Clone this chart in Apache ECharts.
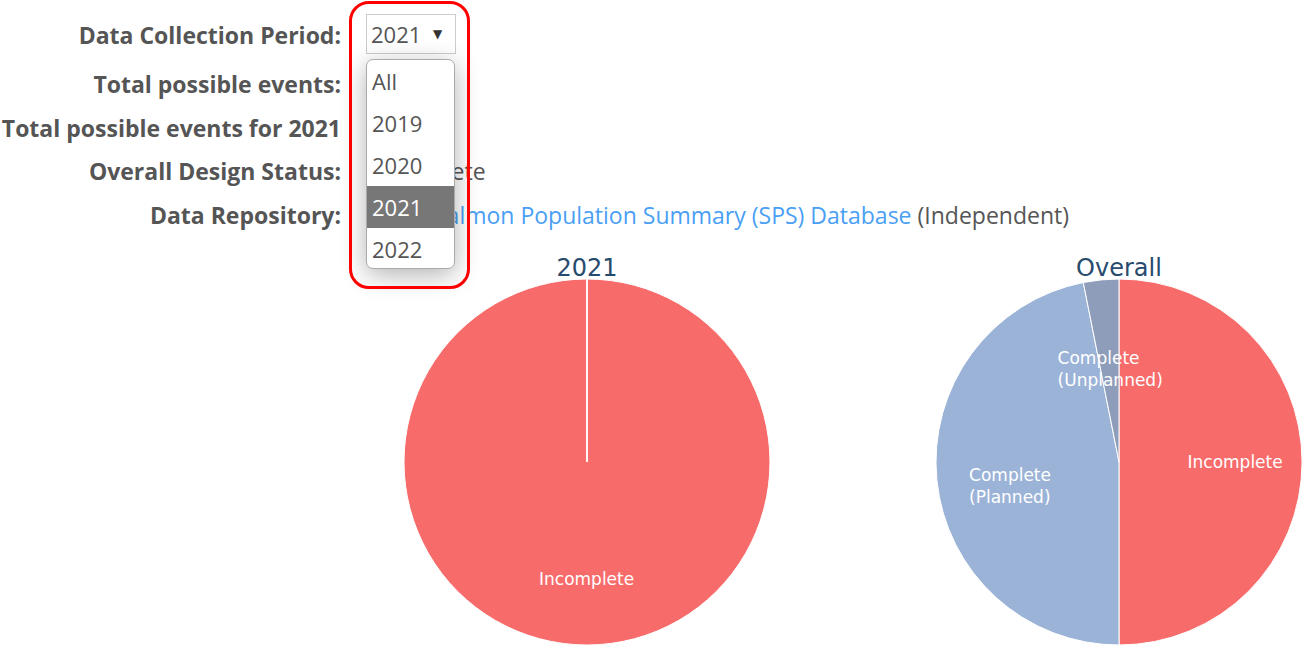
<!DOCTYPE html>
<html>
<head>
<meta charset="utf-8">
<script src="https://cdn.jsdelivr.net/npm/echarts@6/dist/echarts.min.js"></script>
<style>
  body { margin: 0; background: #fff; font-family: 'Open Sans', sans-serif; }
  #chart { position: absolute; left: 0; top: 0; width: 1306px; height: 645px; }
  .lbl { position: absolute; right: 965px; height: 30px; line-height: 30px; font-weight: bold; font-size: 23px; color: #555; white-space: nowrap; z-index: 2; }
  .val { position: absolute; height: 30px; line-height: 30px; font-size: 23px; color: #555; white-space: nowrap; z-index: 2; }
  .val a { color: #4a9ff5; text-decoration: none; }
  #select { position: absolute; left: 366px; top: 14px; width: 90px; height: 40px; box-sizing: border-box; border: 1px solid #ccc; background: #fff; z-index: 3; font-size: 22px; color: #555; line-height: 38px; padding-left: 4px; }
  #select span { position: absolute; left: 66px; top: 0; font-size: 12px; color: #333; font-family: 'DejaVu Sans'; }
  #list { position: absolute; left: 366px; top: 59px; width: 89px; height: 210px; box-sizing: border-box; border: 1px solid #aaa; border-radius: 7px; background: #fff; box-shadow: 0 6px 26px rgba(0,0,0,0.3); overflow: hidden; z-index: 3; }
  #list div { height: 42px; line-height: 42px; font-size: 22px; color: #555; padding-left: 5px; }
  #list div.sel { background: #777; color: #fff; }
  #ring { position: absolute; left: 349px; top: 1px; width: 121px; height: 288px; box-sizing: border-box; border: 3px solid #f00; border-radius: 20px; z-index: 4; }
</style>
</head>
<body>
<div id="chart"></div>

<div class="lbl" style="top:20px">Data Collection Period:</div>
<div class="lbl" style="top:69px">Total possible events:</div>
<div class="lbl" style="top:113px">Total possible events for 2021</div>
<div class="lbl" style="top:156px">Overall Design Status:</div>
<div class="lbl" style="top:200px">Data Repository:</div>
<div class="val" style="top:156px; left:365px">Incomplete</div>
<div class="val" style="top:200px; left:434px"><a>Salmon Population Summary (SPS) Database</a> (Independent)</div>

<div id="select"></div>
<div id="list"></div>
<div id="ring"></div>

<script>
// categories and values
const sliceNames = ['Incomplete', 'Complete (Planned)', 'Complete (Unplanned)']
const yearValues = [8, 0, 0]
const overallValues = [16, 15, 1]
const periodOptions = ['All', '2019', '2020', '2021', '2022']
const selectedPeriod = '2021'

// styling
const sliceColors = ['#f86b6b', '#9bb3d7', '#8e9eba']
const labelOffsets = [[0, 0], [7, 13], [3, 23]]
const labelFont = '17px "DejaVu Sans"'

// dropdown
document.getElementById('select').innerHTML = selectedPeriod + '<span>&#9660;</span>'
document.getElementById('list').innerHTML = periodOptions
  .map(p => '<div' + (p === selectedPeriod ? ' class="sel"' : '') + '>' + p + '</div>')
  .join('')

// width of the widest line, so multi-line labels can be left aligned inside their box
const ctx = document.createElement('canvas').getContext('2d')
ctx.font = labelFont
const splitName = n => n.replace(' (', '\n(').split('\n')
const boxWidth = n => Math.ceil(Math.max(...splitName(n).map(l => ctx.measureText(l).width)))

const toData = vals => vals.map((v, i) => ({
  name: sliceNames[i],
  value: v,
  itemStyle: { color: sliceColors[i] },
}))

const labelData = vals => vals.map((v, i) => ({
  name: sliceNames[i],
  value: v,
  label: {
    show: v > 0,
    offset: labelOffsets[i],
    rich: { t: { width: boxWidth(sliceNames[i]), align: 'left', color: '#fff', fontFamily: 'DejaVu Sans', fontSize: 17, lineHeight: 22 } },
  },
}))

const pieFill = (center, vals) => ({
  type: 'pie',
  center: center,
  radius: [0, 183],
  silent: true,
  label: { show: false },
  labelLine: { show: false },
  itemStyle: { borderColor: '#fff', borderWidth: 1 },
  emphasis: { disabled: true },
  data: toData(vals),
})

// transparent ring only used to push the labels further out
const pieLabels = (center, vals) => ({
  type: 'pie',
  center: center,
  radius: [44, 183],
  silent: true,
  itemStyle: { color: 'transparent', borderWidth: 0 },
  emphasis: { disabled: true },
  labelLine: { show: false },
  label: {
    position: 'inside',
    formatter: p => splitName(p.name).map(l => '{t|' + l + '}').join('\n'),
  },
  data: labelData(vals),
})

const titleStyle = { fontFamily: 'DejaVu Sans', fontSize: 24, fontWeight: 'normal', color: '#274b6d' }

const myChart = echarts.init(document.getElementById('chart'), null, { renderer: 'svg' })
myChart.setOption({
  animation: false,
  title: [
    { text: selectedPeriod, left: 587, top: 256, padding: 0, textAlign: 'center', textStyle: titleStyle },
    { text: 'Overall', left: 1119, top: 256, padding: 0, textAlign: 'center', textStyle: titleStyle },
  ],
  series: [
    pieFill([587, 462], yearValues),
    pieFill([1119, 462], overallValues),
    pieLabels([587, 462], yearValues),
    pieLabels([1119, 462], overallValues),
  ],
})
</script>
</body>
</html>
